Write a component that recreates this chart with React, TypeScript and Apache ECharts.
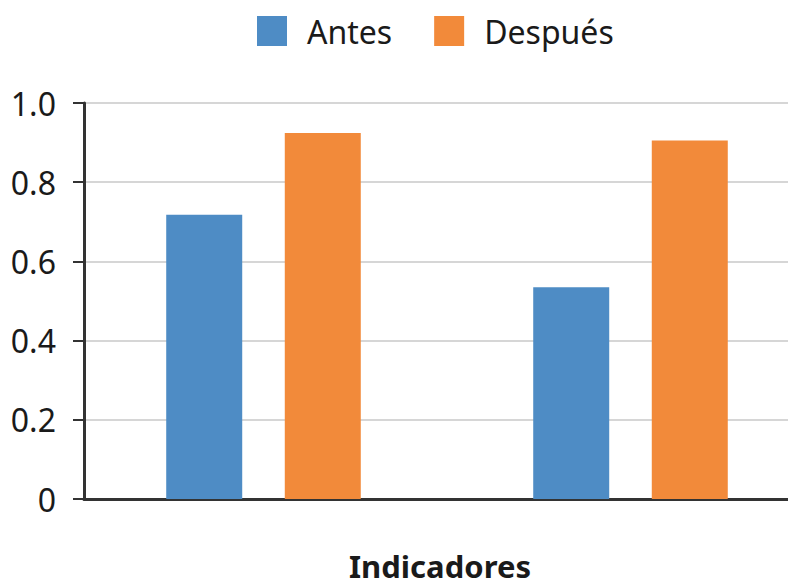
import React, { useEffect, useRef } from "react";
import * as echarts from "echarts";

const categories = ["Indicador 1", "Indicador 2"];
const antes = [0.718, 0.535];
const despues = [0.924, 0.905];
const yTicks = [0, 0.2, 0.4, 0.6, 0.8, 1.0];

const BLUE = "#4e8cc5";
const ORANGE = "#f28a3a";
const FONT = "'Noto Sans', 'Open Sans', sans-serif";

export default function App() {
  const ref = useRef<HTMLDivElement>(null);
  useEffect(() => {
    document.body.style.margin = "0";
    const chart = echarts.init(ref.current!, null, { renderer: "svg" });
    chart.setOption({
      animation: false,
      backgroundColor: "#ffffff",
      legend: {
        top: 15,
        left: 257,
        padding: 0,
        itemWidth: 30,
        itemHeight: 30,
        itemGap: 42,
        icon: "rect",
        textStyle: { fontFamily: FONT, fontSize: 32, color: "#1a1a1a", padding: [0, 0, 0, 15] },
        data: ["Antes", "Después"],
      },
      grid: [
        { left: 84, right: 0, top: 103, bottom: 89, containLabel: false, outerBoundsMode: "none" },
        { left: 80, right: -26, top: 103, bottom: 89, containLabel: false, outerBoundsMode: "none" },
      ],
      xAxis: [
        {
          type: "category",
          gridIndex: 0,
          data: categories,
          name: "Indicadores",
          nameLocation: "middle",
          nameGap: 51,
          nameTextStyle: { fontFamily: FONT, fontSize: 31, fontWeight: "bold", color: "#1a1a1a", padding: [0, 0, 0, 8] },
          axisLine: { show: true, lineStyle: { color: "#333333", width: 3 } },
          axisTick: { show: false },
          axisLabel: { show: false },
        },
        {
          type: "category",
          gridIndex: 1,
          data: categories,
          show: false,
        },
      ],
      yAxis: [
        {
          type: "value",
          gridIndex: 0,
          min: 0,
          max: 1,
          interval: 0.2,
          axisLine: { show: true, lineStyle: { color: "#333333", width: 3 } },
          axisTick: { show: true, length: 11, lineStyle: { color: "#333333", width: 2 } },
          axisLabel: {
            fontFamily: FONT,
            fontSize: 32,
            color: "#1a1a1a",
            margin: 28,
            formatter: (v: number) => {
              const t = yTicks.find((x) => Math.abs(x - v) < 1e-9);
              if (t === undefined) return "";
              return t === 0 ? "0" : t.toFixed(1);
            },
          },
          splitLine: { show: true, lineStyle: { color: "#c8c8c8", width: 1.5 } },
        },
        {
          type: "value",
          gridIndex: 1,
          min: 0,
          max: 1,
          show: false,
          splitLine: { show: false },
        },
      ],
      series: [
        {
          name: "Antes",
          type: "bar",
          xAxisIndex: 1,
          yAxisIndex: 1,
          data: antes,
          barWidth: 76,
          barGap: "56%",
          itemStyle: { color: BLUE },
        },
        {
          name: "Después",
          type: "bar",
          xAxisIndex: 1,
          yAxisIndex: 1,
          data: despues,
          barWidth: 76,
          barGap: "56%",
          itemStyle: { color: ORANGE },
        },
      ],
    });
    return () => chart.dispose();
  }, []);
  return <div ref={ref} style={{ width: 788, height: 588 }} />;
}
